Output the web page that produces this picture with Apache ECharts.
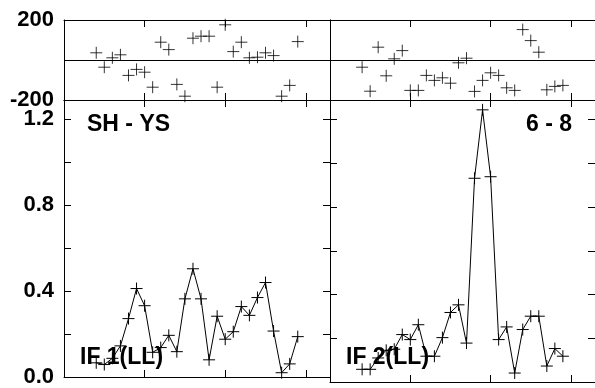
<!DOCTYPE html>
<html>
<head>
<meta charset="utf-8">
<script src="https://cdn.jsdelivr.net/npm/echarts@6/dist/echarts.min.js"></script>
<style>
  html, body { margin: 0; padding: 0; background: #fff; }
  #chart { width: 595px; height: 388px; }
</style>
</head>
<body>
<div id="chart"></div>
<script>
// channel numbers, same for both baselines
var channels = [4, 5, 6, 7, 8, 9, 10, 11, 12, 13, 14, 15, 16, 17, 18, 19, 20, 21, 22, 23, 24, 25, 26, 27, 28, 29];

// IF 1 (left column)
var phase1 = [36, -36, 11, 26, -77, -47, -61, -136, 89, 52, -122, -181, 109, 119, 119, -136, 176, 42, 89, 11, 14, 36, 22, -181, -127, 92];
var amp1 = [0.066, 0.058, 0.087, 0.145, 0.272, 0.412, 0.332, 0.115, 0.137, 0.194, 0.118, 0.364, 0.504, 0.364, 0.080, 0.283, 0.176, 0.211, 0.328, 0.287, 0.370, 0.440, 0.214, 0.020, 0.061, 0.188];

// IF 2 (right column)
var phase2 = [-36, -156, 64, -79, 6, 47, -152, -152, -77, -102, -89, -116, -14, 9, -157, -102, -64, -77, -139, -152, 152, 97, 39, -149, -132, -127];
var amp2 = [0.058, 0.058, 0.11, 0.145, 0.150, 0.217, 0.194, 0.262, 0.118, 0.118, 0.203, 0.318, 0.353, 0.178, 0.932, 1.245, 0.939, 0.194, 0.252, 0.041, 0.240, 0.301, 0.301, 0.073, 0.153, 0.118];

var phaseTicks = [-200, 200];
var ampTicks = [0.0, 0.4, 0.8, 1.2];

var pair = function (xs, ys) {
    var out = [];
    for (var i = 0; i < xs.length; i++) {
        out.push([xs[i], ys[i]]);
    }
    return out;
};

var font = 'Liberation Sans';
var cross = 'path://M0,6L12,6M6,0L6,12';

var tick = { show: true, inside: true, length: 7, lineStyle: { color: '#000', width: 1 } };
var line = { show: true, onZero: false, lineStyle: { color: '#000', width: 1 } };

var phaseLabel = function (v) {
    return phaseTicks.indexOf(v) >= 0 ? String(v) : '';
};
var ampLabel = function (v) {
    for (var k = 0; k < ampTicks.length; k++) {
        if (Math.abs(ampTicks[k] - v) < 1e-6) return ampTicks[k].toFixed(1);
    }
    return '';
};

var xAxes = [];
var yAxes = [];
var addAxes = function (g) {
    var isPhase = g < 2;
    ['bottom', 'top'].forEach(function (pos) {
        xAxes.push({
            gridIndex: g, type: 'value', position: pos,
            min: 0, max: 33, interval: 10,
            axisLine: line, axisTick: tick,
            axisLabel: { show: false }, splitLine: { show: false }
        });
    });
    ['left', 'right'].forEach(function (pos) {
        yAxes.push({
            gridIndex: g, type: 'value', position: pos,
            min: isPhase ? -200 : 0,
            max: isPhase ? 200 : 1.29,
            interval: isPhase ? 200 : 0.2,
            axisLine: line, axisTick: tick,
            axisLabel: {
                show: pos === 'left' && g % 2 === 0,
                margin: 10,
                showMinLabel: true, showMaxLabel: true,
                color: '#000', fontFamily: font, fontWeight: 'bold', fontSize: 22,
                formatter: isPhase ? phaseLabel : ampLabel
            },
            splitLine: { show: isPhase && pos === 'left', lineStyle: { color: '#000', width: 1 } }
        });
    });
};
for (var g = 0; g < 4; g++) {
    addAxes(g);
}

var mark = {
    symbol: cross, symbolSize: 12,
    itemStyle: { color: '#000', borderColor: '#000', borderWidth: 1 }
};

var chart = echarts.init(document.getElementById('chart'));
var option = {
    animation: false,
    backgroundColor: '#fff',
    grid: [
        { left: 64, top: 20, width: 266, height: 80 },
        { left: 330, top: 20, width: 266, height: 80 },
        { left: 64, top: 100, width: 266, height: 282 },
        { left: 330, top: 100, width: 266, height: 282 }
    ],
    xAxis: xAxes,
    yAxis: yAxes,
    series: [
        Object.assign({ type: 'scatter', xAxisIndex: 0, yAxisIndex: 0, data: pair(channels, phase1) }, mark),
        Object.assign({ type: 'scatter', xAxisIndex: 2, yAxisIndex: 2, data: pair(channels, phase2) }, mark),
        Object.assign({ type: 'line', xAxisIndex: 4, yAxisIndex: 4, data: pair(channels, amp1),
            lineStyle: { color: '#000', width: 1 } }, mark),
        Object.assign({ type: 'line', xAxisIndex: 6, yAxisIndex: 6, data: pair(channels, amp2),
            lineStyle: { color: '#000', width: 1 } }, mark)
    ],
    graphic: [
        { type: 'text', z: 100, style: { text: 'SH - YS', x: 87, y: 125, align: 'left', verticalAlign: 'middle',
            font: 'bold 23px "' + font + '"', fill: '#000' } },
        { type: 'text', z: 100, style: { text: '6 - 8', x: 572, y: 125, align: 'right', verticalAlign: 'middle',
            font: 'bold 23px "' + font + '"', fill: '#000' } },
        { type: 'text', z: 100, style: { text: 'IF 1(LL)', x: 80, y: 358, align: 'left', verticalAlign: 'middle',
            font: 'bold 23px "' + font + '"', fill: '#000' } },
        { type: 'text', z: 100, style: { text: 'IF 2(LL)', x: 346, y: 358, align: 'left', verticalAlign: 'middle',
            font: 'bold 23px "' + font + '"', fill: '#000' } }
    ]
};
chart.setOption(option);
</script>
</body>
</html>
